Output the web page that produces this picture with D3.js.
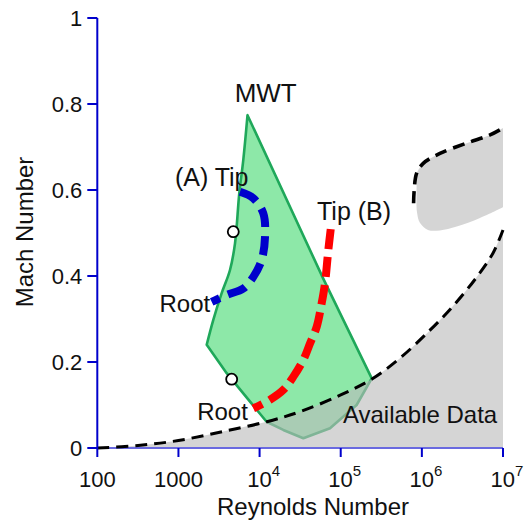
<!DOCTYPE html>
<html>
<head>
<meta charset="utf-8">
<script src="https://cdn.jsdelivr.net/npm/d3@7"></script>
<style>
  html, body { margin: 0; padding: 0; background: #fff; }
  svg { display: block; font-family: "Liberation Sans", Arial, Helvetica, sans-serif; }
</style>
</head>
<body>
<svg id="chart" width="524" height="522"></svg>
<script>
// ---------- data ----------
const xTicks = [100, 1000, 1e4, 1e5, 1e6, 1e7];
const xTickLabels = ["100", "1000", "10^4", "10^5", "10^6", "10^7"];
const yTicks = [0, 0.2, 0.4, 0.6, 0.8, 1];
const yTickLabels = ["0", "0.2", "0.4", "0.6", "0.8", "1"];

// lower boundary of available data (dashed curve)
const availRe = [100, 318, 1000, 3540, 12300, 31500, 1e5, 2.43e5, 5.38e5, 1.26e6, 2.42e6, 4.77e6, 7.52e6, 1e7];
const availM  = [0, 0.0058, 0.0174, 0.0384, 0.0612, 0.0844, 0.1233, 0.1605, 0.209, 0.274, 0.330, 0.398, 0.453, 0.507];

// upper-right available data island: dashed upper edge and lower edge
const upperRe = [7.91e5, 8.05e5, 8.63e5, 1.04e6, 1.67e6, 3.57e6, 6.92e6, 1e7];
const upperM  = [0.569, 0.600, 0.639, 0.662, 0.685, 0.709, 0.728, 0.744];
const islandLowRe = [1e7, 5.2e6, 2.69e6, 1.67e6, 1.19e6, 9.5e5, 8.7e5, 8.6e5];
const islandLowM  = [0.560, 0.535, 0.515, 0.506, 0.507, 0.523, 0.549, 0.588];

// MWT envelope: curved left edge (top -> left corner), then straight/rounded rest
const mwtLeftRe = [7100, 6300, 5620, 4980, 4320, 3410, 2690, 2230];
const mwtLeftM  = [0.774, 0.670, 0.592, 0.476, 0.414, 0.360, 0.298, 0.240];
const mwtRestRe = [3930, 12200, 19600, 34600, 73800, 157000, 241000, 60500];
const mwtRestM  = [0.174, 0.061, 0.042, 0.0226, 0.046, 0.100, 0.162, 0.395];

// (A) tip -> root
const aRe = [5740, 8370, 11100, 11670, 10600, 8370, 6300, 3930, 2570];
const aM  = [0.596, 0.581, 0.546, 0.491, 0.437, 0.398, 0.371, 0.356, 0.340];

// (B) tip -> root
const bRe = [75300, 70300, 64000, 58300, 50600, 41800, 34600, 26100, 19600, 13400, 8370];
const bM  = [0.509, 0.460, 0.383, 0.337, 0.282, 0.243, 0.205, 0.166, 0.135, 0.112, 0.092];

// open circle markers
const markRe = [4740, 4530];
const markM  = [0.503, 0.160];

// annotations
const labelText = ["MWT", "(A) Tip", "Tip (B)", "Root", "Root", "Available Data"];
const labelRe   = [11900, 2570, 1.46e5, 1200, 3490, 9.5e5];
const labelM    = [0.805, 0.609, 0.530, 0.317, 0.065, 0.057];
const labelSize = [26, 25, 25, 24, 24, 24];

// ---------- drawing ----------
const svg = d3.select("#chart");
const x = d3.scaleLog().domain([100, 1e7]).range([97.3, 503]);
const y = d3.scaleLinear().domain([0, 1]).range([448, 18]);
const zip = (a, b) => a.map((v, i) => [v, b[i]]);

const smooth = d3.line().x(d => x(d[0])).y(d => y(d[1])).curve(d3.curveCatmullRom.alpha(0.5));
const straight = d3.line().x(d => x(d[0])).y(d => y(d[1]));

// MWT polygon
const mwtD = smooth(zip(mwtLeftRe, mwtLeftM)) + straight(zip(mwtRestRe, mwtRestM)).replace(/^M/, "L") + "Z";
svg.append("path")
  .attr("d", mwtD)
  .attr("fill", "#8de8a8")
  .attr("stroke", "#1fa85a")
  .attr("stroke-width", 2.6)
  .attr("stroke-linejoin", "round");

// Gray available data (semi-transparent on top)
const availPts = zip(availRe, availM);
const areaGen = d3.area().x(d => x(d[0])).y0(y(0)).y1(d => y(d[1])).curve(d3.curveCatmullRom.alpha(0.5));
svg.append("path")
  .attr("d", areaGen(availPts))
  .attr("fill", "#bcbcbc")
  .attr("fill-opacity", 0.62);

const upPts = zip(upperRe, upperM);
const lowPts = zip(islandLowRe, islandLowM);
const islandD = smooth(upPts.slice(2)) + smooth(lowPts).replace(/^M/, "L") + "Z";
svg.append("path")
  .attr("d", islandD)
  .attr("fill", "#bcbcbc")
  .attr("fill-opacity", 0.62);

// x axis domain line
svg.append("line")
  .attr("x1", x(100)).attr("x2", x(1e7))
  .attr("y1", y(0)).attr("y2", y(0))
  .attr("stroke", "#6a6ae0").attr("stroke-width", 2);

// dashed boundaries
svg.append("path")
  .attr("d", smooth(availPts))
  .attr("fill", "none").attr("stroke", "#000")
  .attr("stroke-width", 3).attr("stroke-dasharray", "12,7");
svg.append("path")
  .attr("d", smooth(upPts))
  .attr("fill", "none").attr("stroke", "#000")
  .attr("stroke-width", 3.6).attr("stroke-dasharray", "12,7");

// blade curves
svg.append("path")
  .attr("d", smooth(zip(aRe, aM)))
  .attr("fill", "none").attr("stroke", "#0000cc")
  .attr("stroke-width", 8).attr("stroke-dasharray", "19,9");
svg.append("path")
  .attr("d", smooth(zip(bRe, bM)))
  .attr("fill", "none").attr("stroke", "#ff0000")
  .attr("stroke-width", 8).attr("stroke-dasharray", "20,8");

// markers
svg.selectAll("circle.mark").data(zip(markRe, markM)).enter().append("circle")
  .attr("class", "mark")
  .attr("cx", d => x(d[0])).attr("cy", d => y(d[1])).attr("r", 5.5)
  .attr("fill", "#fff").attr("stroke", "#000").attr("stroke-width", 1.8);

// annotations
labelText.forEach((t, i) => {
  svg.append("text")
    .attr("x", x(labelRe[i])).attr("y", y(labelM[i]))
    .attr("text-anchor", "middle")
    .attr("font-size", labelSize[i])
    .attr("fill", "#111")
    .text(t);
});

// y axis
const yAxisG = svg.append("g");
yAxisG.append("line")
  .attr("x1", x(100)).attr("x2", x(100))
  .attr("y1", y(1)).attr("y2", y(0))
  .attr("stroke", "#0000cc").attr("stroke-width", 2);
yTicks.forEach((v, i) => {
  yAxisG.append("line")
    .attr("x1", x(100) - 10).attr("x2", x(100))
    .attr("y1", y(v)).attr("y2", y(v))
    .attr("stroke", "#0000cc").attr("stroke-width", 2);
  yAxisG.append("text")
    .attr("x", x(100) - 15).attr("y", y(v))
    .attr("dy", "0.35em")
    .attr("text-anchor", "end")
    .attr("font-size", 22).attr("fill", "#111")
    .text(yTickLabels[i]);
});

// x axis ticks
const xAxisG = svg.append("g");
xTicks.forEach((v, i) => {
  xAxisG.append("line")
    .attr("x1", x(v)).attr("x2", x(v))
    .attr("y1", y(0)).attr("y2", y(0) + 9)
    .attr("stroke", "#0000cc").attr("stroke-width", 2);
  const lab = xTickLabels[i];
  const txt = xAxisG.append("text")
    .attr("y", 487).attr("text-anchor", "middle")
    .attr("font-size", 22).attr("fill", "#111");
  if (lab.includes("^")) {
    const [b, e] = lab.split("^");
    txt.attr("x", x(v) + 4);
    txt.append("tspan").text(b);
    txt.append("tspan").attr("font-size", 15).attr("dy", -11).text(e);
  } else {
    txt.attr("x", x(v)).text(lab);
  }
});

// axis titles
svg.append("text")
  .attr("x", 313).attr("y", 515)
  .attr("text-anchor", "middle")
  .attr("font-size", 24).attr("fill", "#111")
  .text("Reynolds Number");
svg.append("text")
  .attr("transform", "translate(33,232) rotate(-90)")
  .attr("text-anchor", "middle")
  .attr("font-size", 24).attr("fill", "#111")
  .text("Mach Number");
</script>
</body>
</html>
